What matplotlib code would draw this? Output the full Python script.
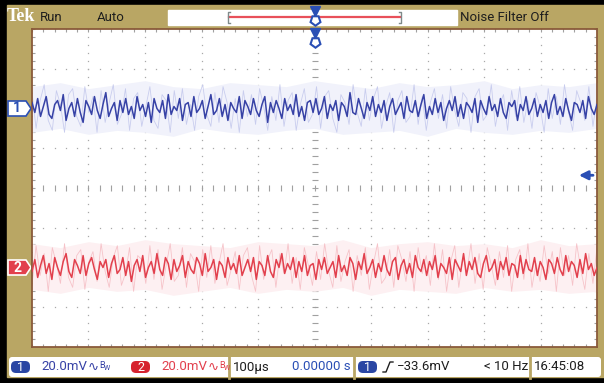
import matplotlib
matplotlib.use('Agg')
import matplotlib.pyplot as plt
import numpy as np
from matplotlib.patches import Rectangle, FancyBboxPatch, Polygon
from matplotlib.transforms import blended_transform_factory

# scope settings
time_per_div_us = 100
ch1_mv_per_div = 20.0
ch2_mv_per_div = 20.0
ch1_offset_div = 2.0
ch2_offset_div = -2.0
trigger_level_mv = -33.6

# noise traces, mV, read roughly across the screen
ch1_mv = [3, -2, 5, -4, 1, 6, -3, -5, 2, 4, -1, 7, -6, 0, 3, -4, 5, -2, -7, 4,
          1, -3, 6, -1, -5, 2, 8, -4, 0, 3, -6, 4, -2, 5, -3, 1, -5, 6, -1, 2,
          -4, 3, -7, 5, 0, -2, 4, -5, 7, -3, 1, -1, 5, -6, 2, 3, -4, 6, -2, 0,
          4, -5, 1, 7, -3, -1, 5, -4, 2, -6, 3, 0, -2, 6, -5, 4, 1, -3, 5, -1,
          -4, 2, 6, -7, 3, -2, 4, 0, -5, 5, -1, 2, -3, 7, -4, 1, -6, 3, 4, -2,
          5, -3, 0, 6, -5, 2, -1, 4, -6, 3, 1, -4, 8, -2, -3, 5, 0, -5, 3, -1,
          6, -4, 2, -2, 4, -6, 1, 5, -3, 0, 3, -5, 6, -1, -2, 4, -4, 2, 7, -5,
          1, -3, 5, -2, 3, -6, 0, 4, -1, 6, -4, 2, -5, 3, 1, -2, 5, -7, 4, 0,
          -3, 6, -1, 2, -4, 5, -2, -5, 3, 1, 4, -6, 2, -1, 6, -3, 0, 5, -4, 2,
          -2, 4, -5, 3, 7, -3, 1, -4, 5, -1, -6, 3, 2, -2, 4, -5, 6, 0, -3, 2]
ch2_mv = [-2, 4, -5, 1, 6, -3, 2, -6, 5, 0, -4, 3, 7, -2, -5, 4, 1, -3, 6, -4,
          2, 5, -1, -6, 3, 0, 4, -5, 2, 6, -3, -1, 5, -4, 3, -7, 1, 4, -2, 6,
          -5, 0, 3, -3, 7, -1, -4, 5, 2, -6, 4, -2, 1, 6, -5, 3, -1, -3, 5, 2,
          -4, 7, -2, 0, 4, -6, 3, 1, -5, 5, -1, 2, -3, 6, -4, 0, 4, -2, 5, -6,
          3, 1, -4, 6, -2, -5, 4, 0, 7, -3, 2, -1, 5, -5, 3, -2, 6, -4, 1, 2,
          -6, 4, -1, 5, -3, 0, 3, -5, 6, -2, 1, -4, 5, 2, -6, 3, -1, 7, -3, 0,
          4, -5, 2, -2, 6, -1, -4, 3, 5, -6, 1, 4, -3, 2, -5, 6, 0, -2, 4, -4,
          3, -1, 6, -5, 2, 0, -3, 5, -6, 4, 1, -2, 7, -4, 3, -1, 5, -3, -5, 2,
          6, -2, 0, 4, -6, 3, -1, 5, -4, 2, 1, -5, 6, -3, 4, -1, -2, 5, -4, 3,
          0, -6, 4, 2, -3, 5, -1, -4, 6, -2, 3, 1, -5, 4, -3, 7, -1, 2, -4, 0]

# fainter persistence samples (wider spikes), mV
ch1_persist_mv = [8, -10, 4, 12, -6, -11, 9, 2, -12, 7, 10, -4, -9, 11, -2, 6, -12, 9, -7, 3,
                  12, -8, -3, 10, -11, 5, 8, -9, 1, 11, -6, -10, 7, 4, -12, 9, -5, 10, -8, 2,
                  -11, 6, 12, -3, -9, 8, -7, 11, 3, -10, 5, -12, 9, -4, 7, -8, 10, 1, -11, 6,
                  -6, 12, -9, 4, 8, -11, 2, 10, -7, -3, 11, -10, 6, 9, -5, -12, 7, 3, -8, 12,
                  -2, -9, 10, -6, 5, 11, -10, 1, 8, -12, 4, 9, -7, -4, 12, -8, 6, -11, 3, 10,
                  -5, 7, -10, 11, -1, -9, 8, 5, -12, 6, 10, -6, -3, 12, -9, 2, 7, -11, 9, -4,
                  11, -7, 4, -10, 8, 1, -12, 10, -5, 6, -8, 12, -2, -11, 9, 3, -6, 11, -9, 5]
ch2_persist_mv = [-9, 11, -4, 7, -12, 10, 2, -8, 12, -5, -10, 6, 9, -11, 3, 8, -7, 12, -2, -10,
                  5, 11, -9, -3, 10, -12, 6, 4, -8, 11, -6, 9, -11, 1, 12, -7, -4, 10, -10, 7,
                  3, -12, 9, -5, 11, -8, 2, 12, -9, -1, 8, -11, 6, 10, -4, -12, 11, -6, 4, 9,
                  -10, 7, -3, 12, -8, 5, -11, 10, 1, -9, 8, -6, 12, -2, -10, 11, -7, 3, 9, -12,
                  6, -4, 10, -11, 2, 12, -8, -5, 9, -10, 11, 4, -7, 8, -12, 10, -3, 6, -9, 12,
                  -6, 9, -12, 3, 11, -10, 5, -2, 12, -8, 7, -11, 10, 1, -9, 8, -5, 11, -12, 4,
                  9, -6, 12, -10, 2, -7, 11, -3, 8, -12, 10, -4, 6, -9, 12, -1, -11, 7, -8, 10]

# persistence haze envelope (upper / lower, mV)
ch1_halo_hi = [11, 13, 10, 12, 14, 11, 10, 13, 12, 11, 14, 12, 10, 13, 11, 12, 14, 10, 12, 11, 13]
ch1_halo_lo = [-12, -10, -13, -11, -12, -14, -10, -12, -13, -11, -10, -13, -12, -11, -14, -10, -12, -13, -11, -12, -10]
ch2_halo_hi = [12, 10, 13, 11, 14, 12, 11, 10, 13, 12, 11, 14, 10, 12, 13, 11, 12, 10, 14, 11, 12]
ch2_halo_lo = [-11, -13, -10, -12, -11, -14, -12, -10, -13, -11, -12, -10, -14, -11, -12, -13, -10, -12, -11, -13, -12]

TAN = '#b9a664'
BLUE = '#3742a6'
MBLUE = '#2a4fb5'
RED = '#e2404d'
DARK = '#1e1e1e'
FONT = ['Roboto', 'DejaVu Sans']

fig = plt.figure(figsize=(6.04, 3.83), dpi=100, facecolor='black')

# pixel-space canvas for the instrument chrome
deco = fig.add_axes([0, 0, 1, 1], zorder=0)
deco.set_xlim(0, 604)
deco.set_ylim(383, 0)
deco.axis('off')

# graticule axes, divisions / microseconds
ax = fig.add_axes([32 / 604, 1 - 347 / 383, 565 / 604, 318 / 383], zorder=1)
half_t = 5 * time_per_div_us
ax.set_xlim(-half_t, half_t)
ax.set_ylim(-4, 4)
ax.set_facecolor('white')
ax.set_xticks([])
ax.set_yticks([])
for s in ax.spines.values():
    s.set_color('#8a5a3a')
    s.set_linewidth(1.3)

deco.add_patch(Rectangle((7, 5), 597, 372, color=TAN, zorder=0))

# ---- graticule
dot_y = np.arange(-4, 4.001, 0.2)
dot_x = np.arange(-half_t, half_t + 0.1, time_per_div_us / 5)
for gx in np.arange(-4, 5) * time_per_div_us:
    if gx == 0:
        continue
    ax.plot(np.full_like(dot_y, gx), dot_y, ls='none', marker='s', ms=0.9, color='#a9a9a9', mew=0)
for gy in range(-3, 4):
    if gy == 0:
        continue
    ax.plot(dot_x, np.full_like(dot_x, gy), ls='none', marker='s', ms=0.9, color='#a9a9a9', mew=0)
# center cross with ticks
ax.plot(np.zeros_like(dot_y), dot_y, ls='none', marker='_', ms=4, color='#a0a0a0', mew=0.8)
ax.plot(dot_x, np.zeros_like(dot_x), ls='none', marker='|', ms=4, color='#a0a0a0', mew=0.8)
# edge ticks
ax.plot(dot_x, np.full_like(dot_x, 4), ls='none', marker='|', ms=5, color='#a0a0a0', mew=0.8)
ax.plot(dot_x, np.full_like(dot_x, -4), ls='none', marker='|', ms=5, color='#a0a0a0', mew=0.8)
ax.plot(np.full_like(dot_y, -half_t), dot_y, ls='none', marker='_', ms=5, color='#a0a0a0', mew=0.8)
ax.plot(np.full_like(dot_y, half_t), dot_y, ls='none', marker='_', ms=5, color='#a0a0a0', mew=0.8)

# ---- traces
t_halo = np.linspace(-half_t, half_t, len(ch1_halo_hi))
ax.fill_between(t_halo, ch1_offset_div + np.array(ch1_halo_lo) / ch1_mv_per_div,
                ch1_offset_div + np.array(ch1_halo_hi) / ch1_mv_per_div,
                color='#f1f2fb', lw=0, zorder=2)
ax.fill_between(t_halo, ch2_offset_div + np.array(ch2_halo_lo) / ch2_mv_per_div,
                ch2_offset_div + np.array(ch2_halo_hi) / ch2_mv_per_div,
                color='#fdf0f2', lw=0, zorder=2)

tp1 = np.linspace(-half_t, half_t, len(ch1_persist_mv))
tp2 = np.linspace(-half_t, half_t, len(ch2_persist_mv))
ax.plot(tp1, ch1_offset_div + np.array(ch1_persist_mv) / ch1_mv_per_div, color='#c9cdee', lw=0.6, zorder=2.5)
ax.plot(tp2, ch2_offset_div + np.array(ch2_persist_mv) / ch2_mv_per_div, color='#f6c3c9', lw=0.6, zorder=2.5)

t1 = np.linspace(-half_t, half_t, len(ch1_mv))
t2 = np.linspace(-half_t, half_t, len(ch2_mv))
ax.plot(t1, ch1_offset_div + np.array(ch1_mv) / ch1_mv_per_div, color=BLUE, lw=1.1, zorder=3)
ax.plot(t2, ch2_offset_div + np.array(ch2_mv) / ch2_mv_per_div, color=RED, lw=1.1, zorder=3)

# trigger level arrow on the right edge
trig_div = ch1_offset_div + trigger_level_mv / ch1_mv_per_div
tr_r = blended_transform_factory(ax.transAxes, ax.transData)
ax.annotate('', xy=(0.968, trig_div), xycoords=tr_r, xytext=(0.993, trig_div), textcoords=tr_r,
            arrowprops=dict(arrowstyle='-|>', color=MBLUE, lw=2, mutation_scale=13,
                            shrinkA=0, shrinkB=0), zorder=5)

# ---- channel markers on the left
tr_l = blended_transform_factory(deco.transData, ax.transData)
h = 7.5 / (318 / 8)
for off, face, edge, lab in [(ch1_offset_div, 'white', MBLUE, '1'), (ch2_offset_div, RED, 'white', '2')]:
    deco.add_patch(Polygon([(8, off + h), (26, off + h), (31, off), (26, off - h), (8, off - h)],
                           closed=True, facecolor=face, edgecolor=edge, lw=1.2,
                           transform=tr_l, clip_on=False, zorder=4))
    deco.text(17, off, lab, transform=tr_l, ha='center', va='center', fontsize=10,
              fontweight='bold', color=edge if face == 'white' else 'white', family=FONT, zorder=5)

# ---- header
deco.text(7, 16.5, 'Tek', color='white', fontsize=13, fontweight='bold', family='Liberation Serif',
          va='center', ha='left')
deco.text(40, 17.5, 'Run', color=DARK, fontsize=9.5, family=FONT, va='center')
deco.text(97, 17.5, 'Auto', color=DARK, fontsize=9.5, family=FONT, va='center')
deco.text(460, 17.5, 'Noise Filter Off', color=DARK, fontsize=9.5, family=FONT, va='center')
deco.add_patch(Rectangle((168, 10), 289, 15, color='white', zorder=1))
deco.plot([229, 400], [16.5, 16.5], color='#e8505a', lw=1.6, zorder=2)
for bx, d in [(228, 2), (401, -2)]:
    deco.plot([bx + d, bx, bx, bx + d], [12, 12, 23, 23], color='#7f8a8a', lw=1, zorder=2)

# trigger position markers (time zero), drawn on top of both layers
tr_t = blended_transform_factory(ax.transData, deco.transData)
for ytop in (10, 32):
    ax.plot([0, 0], [ytop, ytop + 7], color=MBLUE, lw=1.4, transform=tr_t, clip_on=False, zorder=6)
    ax.plot([0], [ytop + 1], marker='v', ms=6.5, color=MBLUE, transform=tr_t, clip_on=False, zorder=6)
    ax.plot([0], [ytop + 10], marker=(5, 0, 180), ms=7.5, mfc='white', mec=MBLUE, mew=1.5,
            transform=tr_t, clip_on=False, zorder=6)

# ---- status bar
deco.add_patch(FancyBboxPatch((9, 357), 592, 20, boxstyle='round,pad=0,rounding_size=3',
                              facecolor='white', edgecolor='none', zorder=1))
for sx in (229, 354, 530):
    deco.plot([sx, sx], [356, 378], color=TAN, lw=2, zorder=2)


def badge(x, color, lab):
    deco.add_patch(FancyBboxPatch((x, 361), 19, 12, boxstyle='round,pad=0,rounding_size=5',
                                  facecolor=color, edgecolor='none', zorder=3))
    deco.text(x + 9.5, 367.5, lab, color='white', fontsize=9, ha='center', va='center',
              family=FONT, zorder=4)


def volts(x, color):
    deco.text(x, 367, '20.0mV', color=color, fontsize=9.5, family=FONT, va='center', zorder=4)
    deco.text(x + 47, 367, '\u223f', color=color, fontsize=9.5, family=['DejaVu Sans'], va='center', zorder=4)
    deco.text(x + 58, 366, 'B', color=color, fontsize=6.5, family=FONT, va='center', zorder=4)
    deco.text(x + 63, 369, 'W', color=color, fontsize=5, family=FONT, va='center', zorder=4)


badge(11, '#2a46a3', '1')
volts(41, BLUE)
badge(131, '#d6232e', '2')
volts(161, RED)

deco.text(233, 367, '100\u00b5s', color=DARK, fontsize=9.5, family=FONT, va='center', zorder=4)
deco.text(351, 367, '0.00000 s', color=MBLUE, fontsize=9.5, family=FONT, va='center', ha='right', zorder=4)

badge(358, '#2a46a3', '1')
deco.plot([383, 386, 390, 393], [372, 372, 362, 362], color=DARK, lw=1, zorder=4)
deco.text(397, 367, '\u221233.6mV', color=DARK, fontsize=9.5, family=FONT, va='center', zorder=4)
deco.text(528, 367, '< 10 Hz', color=DARK, fontsize=9.5, family=FONT, va='center', ha='right', zorder=4)
deco.text(534, 367, '16:45:08', color=DARK, fontsize=9.5, family=FONT, va='center', zorder=4)

fig.savefig('out.png', dpi=100, facecolor=fig.get_facecolor())
